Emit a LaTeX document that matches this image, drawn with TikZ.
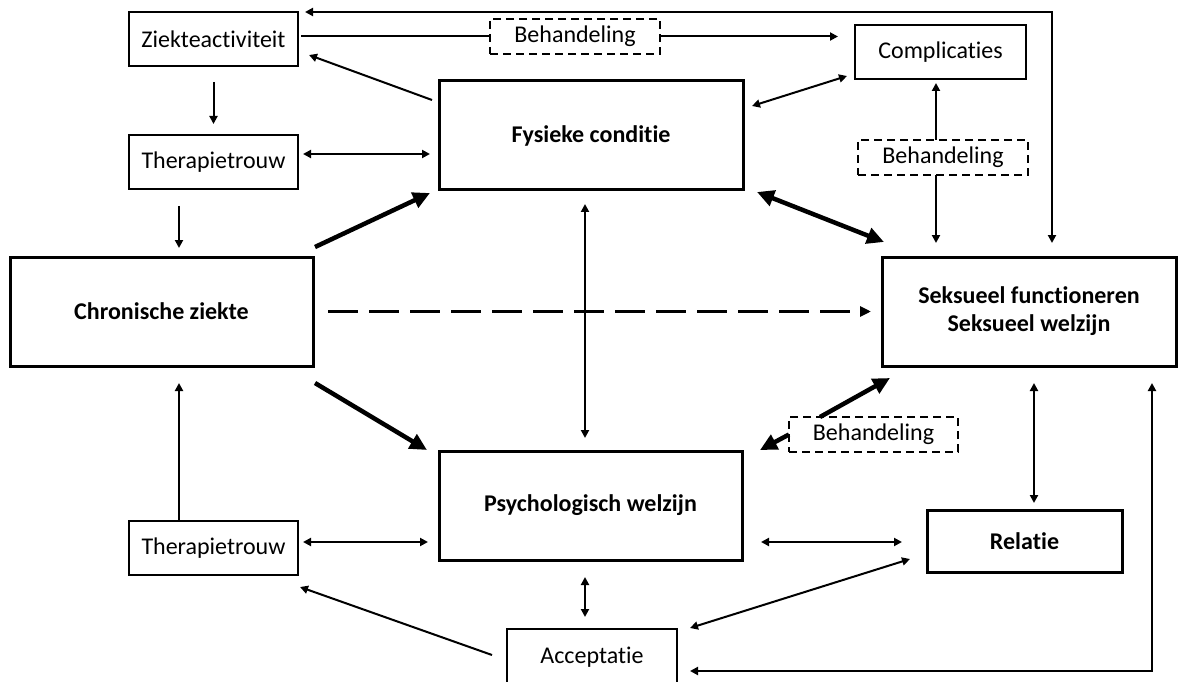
\documentclass[tikz,border=0pt]{standalone}
\usepackage{fontspec}
\setmainfont{Carlito}[Ligatures=NoCommon]
\usetikzlibrary{arrows.meta,calc}
\begin{document}
\begin{tikzpicture}[x=1pt,y=-1pt,
  lab/.style={font=\fontsize{24}{28}\selectfont, align=center, inner sep=0pt, outer sep=0pt},
  smallbox/.style={lab, draw, line width=2pt, minimum width=169pt, minimum height=54pt},
  bigbox/.style={lab, draw, line width=3pt, font=\fontsize{24}{28}\selectfont\bfseries, minimum width=303pt, minimum height=109pt},
  dbox/.style={lab, draw, fill=white, line width=2pt, dash pattern=on 8pt off 5pt, minimum width=170pt, minimum height=35pt},
  conn/.style={line width=2pt, >={Triangle[length=8pt,width=8pt]}},
  heavy/.style={line width=4.5pt, >={Triangle[length=17pt,width=16pt]}},
  dashconn/.style={line width=3.5pt, dash pattern=on 30pt off 11pt, >={Triangle[length=11pt,width=10pt]}}
]
\useasboundingbox (0,0) rectangle (1179,682);

% nodes
\node[smallbox] (zi) at (213.5,39) {Ziekteactiviteit};
\node[smallbox] (th1) at (213.5,162) {Therapietrouw};
\node[bigbox] (ch) at (161.5,311.5) {Chronische ziekte};
\node[bigbox, minimum width=304pt] (fy) at (591,135.5) {Fysieke conditie};
\node[bigbox] (ps) at (590.5,505.5) {Psychologisch welzijn};
\node[smallbox, minimum width=171pt] (co) at (940.5,52) {Complicaties};
\node[bigbox, minimum width=294pt] (sk) at (1029,311.5) {Seksueel functioneren\\Seksueel welzijn};
\node[smallbox, line width=3pt, font=\fontsize{24}{28}\selectfont\bfseries, minimum width=195pt, minimum height=62pt] (re) at (1024.5,541) {Relatie};
\node[smallbox] (th2) at (213.5,548) {Therapietrouw};
\node[smallbox, minimum width=170pt, minimum height=56pt] (ac) at (592,657) {Acceptatie};
\node[dbox] (b1) at (575,36.5) {Behandeling};
\node[dbox] (b2) at (943,157.5) {Behandeling};
\node[dbox, minimum width=169pt] (b3) at (873.5,434.5) {Behandeling};

% thin connectors
\draw[conn,->] ($(zi.south)+(0,16)$) -- ($(th1.north)+(0,-11)$);
\draw[conn,->] ($(th1.south)+(-34.5,17)$) -- ($(ch.north)+(17.5,-9)$);
\draw[conn,->] ($(fy.north west)+(-7,19)$) -- ($(zi.south east)+(11,-11)$);
\draw[conn,<->] ($(th1.east)+(5,-8)$) -- ($(fy.west)+(-9,18.5)$);
\draw[conn] ($(b1.west -| zi.east)+(3,0)$) -- (b1.west);
\draw[conn,->] (b1.east) -- ($(b1.east -| co.west)+(-17,0)$);
\draw[conn,<->] ($(fy.north east)+(9,25)$) -- ($(co.south west)+(-8,-3)$);
\draw[conn,->] ($(b2.north)+(-7,0)$) -- ($(co.south)+(-4.5,4)$);
\draw[conn,->] ($(b2.south)+(-7,0)$) -- ($(sk.north)+(-93,-14)$);
\draw[conn,<->] ($(zi.north east)+(7,0)$) -| ($(sk.north)+(23,-14)$);
\draw[conn,<->] ($(fy.south)+(-6,14)$) -- ($(ps.north)+(-5.5,-13)$);
\draw[conn,<->] ($(sk.south)+(5,17)$) -- ($(re.north)+(9.5,-7)$);
\draw[conn,<->] ($(sk.south)+(123,17)$) |- ($(ac.east)+(13,14)$);
\draw[conn,->] ($(th2.north)+(-34.5,-1)$) -- ($(ch.south)+(17.5,17)$);
\draw[conn,<->] ($(th2.east)+(5,-6)$) -- ($(ps.west)+(-11,36.5)$);
\draw[conn,<->] ($(ps.east)+(19,36.5)$) -- ($(re.west)+(-25,1)$);
\draw[conn,<->] ($(ps.south)+(-5.5,17)$) -- ($(ac.north)+(-7,-12)$);
\draw[conn,->] ($(ac.west)+(-15,-2)$) -- ($(th2.south east)+(2,12)$);
\draw[conn,<->] ($(ac.north east)+(13,-1)$) -- ($(re.west)+(-17,18)$);

% heavy connectors
\draw[heavy,->] ($(ch.north east)+(2,-10)$) -- ($(fy.south west)+(-9,3)$);
\draw[heavy,->] ($(ch.south east)+(2,17)$) -- ($(ps.north west)+(-12,-1)$);
\draw[heavy,<->] ($(fy.south east)+(14,2)$) -- ($(sk.north west)+(2,-15)$);
\draw[heavy,->] (b3.west) -- ($(ps.north east)+(18,-1)$);
\draw[heavy,->] ($(b3.north west)+(31,0)$) -- ($(sk.south west)+(8,12)$);

% dashed connector
\draw[dashconn,->] ($(ch.east)+(15,0)$) -- ($(sk.west)+(-11,0)$);
\end{tikzpicture}
\end{document}
